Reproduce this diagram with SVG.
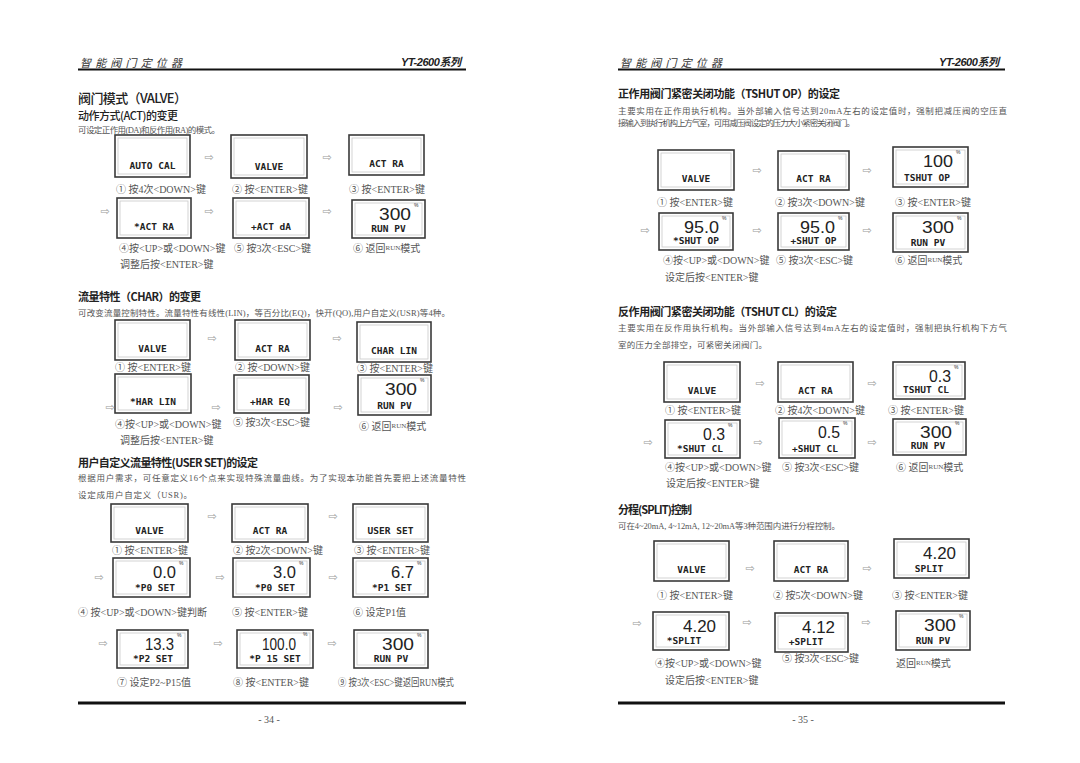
<svg xmlns="http://www.w3.org/2000/svg" width="1080" height="763" viewBox="0 0 1080 763">
<style>
.o{fill:#fff;stroke:#3a3a3a;stroke-width:1.6}
.i{fill:none;stroke:#c8c8c8;stroke-width:0.8}
.s{font-family:"DejaVu Sans Mono",monospace;font-weight:bold;font-size:9.5px;fill:#222;text-anchor:middle;dominant-baseline:central}
.b{font-family:"Liberation Sans",sans-serif;font-size:17px;fill:#222;text-anchor:end;dominant-baseline:central}
.p{font-family:"Liberation Sans",sans-serif;font-size:5px;fill:#333}
.a{font-family:"DejaVu Sans",sans-serif;font-size:11px;fill:#999;text-anchor:middle;dominant-baseline:central}
.l{font-family:"Liberation Serif","Noto Sans CJK SC",serif;font-size:10px;fill:#555;dominant-baseline:central}
.l tspan{font-size:7px}
.t{font-family:"Noto Sans CJK SC",sans-serif;font-weight:bold;fill:#222;dominant-baseline:central;font-size:11px}
.d{font-family:"Liberation Serif","Noto Sans CJK SC",serif;font-size:8.5px;fill:#555;dominant-baseline:central}
.h{font-family:"Noto Sans CJK SC",sans-serif;font-style:italic;font-size:11px;fill:#333;dominant-baseline:central}
.hy{font-family:"Liberation Sans","Noto Sans CJK SC",sans-serif;font-style:italic;font-weight:bold;font-size:11px;fill:#222;dominant-baseline:central;text-anchor:end}
.r{stroke:#111}
.pg{font-family:"Liberation Serif",serif;font-size:10px;fill:#555;text-anchor:middle;dominant-baseline:central}
</style>
<rect width="1080" height="763" fill="#fff"/>

<g id="page-frame">
<text class="h" x="80" y="62" textLength="102">智 能 阀 门 定 位 器</text>
<text class="hy" x="461" y="62" textLength="60">YT-2600系列</text>
<line class="r" x1="78" y1="69.5" x2="466" y2="69.5" stroke-width="2"/>
<line class="r" x1="78" y1="703" x2="466" y2="703" stroke-width="3"/>
<text class="pg" x="269" y="719">- 34 -</text>
<text class="h" x="620" y="62" textLength="102">智 能 阀 门 定 位 器</text>
<text class="hy" x="999" y="62" textLength="60">YT-2600系列</text>
<line class="r" x1="618" y1="69.5" x2="1005" y2="69.5" stroke-width="2"/>
<line class="r" x1="618" y1="703" x2="1005" y2="703" stroke-width="3"/>
<text class="pg" x="803" y="719">- 35 -</text>
</g>

<g id="headings">
<text class="t" x="78" y="97" style="font-size:13px;font-weight:500" textLength="109">阀门模式（VALVE）</text>
<text class="t" x="78" y="115" style="font-weight:500" textLength="100">动作方式(ACT)的变更</text>
<text class="d" x="78" y="130" textLength="142">可设定正作用(DA)和反作用(RA)的模式。</text>
<text class="t" x="78" y="296" textLength="123">流量特性（CHAR）的变更</text>
<text class="d" x="78" y="313" textLength="372">可改变流量控制特性。流量特性有线性(LIN)，等百分比(EQ)，快开(QO),用户自定义(USR)等4种。</text>
<text class="t" x="78" y="462" textLength="180">用户自定义流量特性(USER SET)的设定</text>
<text class="d" x="78" y="478" textLength="388">根据用户需求，可任意定义16个点来实现特殊流量曲线。为了实现本功能首先要把上述流量特性</text>
<text class="d" x="78" y="495" textLength="114">设定成用户自定义（USR)。</text>
<text class="t" x="618" y="93" textLength="222">正作用阀门紧密关闭功能（TSHUT OP）的设定</text>
<text class="d" x="618" y="111" textLength="389">主要实用在正作用执行机构。当外部输入信号达到20mA左右的设定值时，强制把减压阀的空压直</text>
<text class="d" x="618" y="123" textLength="237">接输入到执行机构上方气室，可用减压阀设定的压力大小紧密关闭阀门。</text>
<text class="t" x="618" y="311" textLength="219">反作用阀门紧密关闭功能（TSHUT CL）的设定</text>
<text class="d" x="618" y="328" textLength="389">主要实用在反作用执行机构。当外部输入信号达到4mA左右的设定值时，强制把执行机构下方气</text>
<text class="d" x="618" y="345" textLength="149">室的压力全部排空，可紧密关闭阀门。</text>
<text class="t" x="618" y="509" textLength="74">分程(SPLIT)控制</text>
<text class="d" x="618" y="526" textLength="222">可在4~20mA, 4~12mA, 12~20mA等3种范围内进行分程控制。</text>
</g>

<!-- VALVE / ACT -->
<g id="a1"><rect class="o" x="115" y="135" width="75" height="42"/><rect class="i" x="118" y="138" width="69" height="36"/><text class="s" x="152.5" y="165">AUTO CAL</text></g>
<g id="a2"><rect class="o" x="231" y="135" width="76" height="43"/><rect class="i" x="234" y="138" width="70" height="37"/><text class="s" x="269" y="166">VALVE</text></g>
<g id="a3"><rect class="o" x="349" y="135" width="75" height="40"/><rect class="i" x="352" y="138" width="69" height="34"/><text class="s" x="386.5" y="163">ACT RA</text></g>
<g id="a4"><rect class="o" x="117" y="198" width="74" height="40"/><rect class="i" x="120" y="201" width="68" height="34"/><text class="s" x="154" y="226">*ACT RA</text></g>
<g id="a5"><rect class="o" x="233" y="198" width="76" height="40"/><rect class="i" x="236" y="201" width="70" height="34"/><text class="s" x="271" y="226">+ACT dA</text></g>
<g id="a6"><rect class="o" x="352" y="200" width="73" height="38"/><rect class="i" x="355" y="203" width="67" height="32"/><text class="b" x="411" y="214" textLength="32" lengthAdjust="spacingAndGlyphs">300</text><text class="p" x="414" y="207">%</text><text class="s" x="388.5" y="228">RUN PV</text></g>

<!-- CHAR -->
<g id="c1"><rect class="o" x="115" y="320" width="75" height="40"/><rect class="i" x="118" y="323" width="69" height="34"/><text class="s" x="152.5" y="348">VALVE</text></g>
<g id="c2"><rect class="o" x="235" y="320" width="75" height="40"/><rect class="i" x="238" y="323" width="69" height="34"/><text class="s" x="272.5" y="348">ACT RA</text></g>
<g id="c3"><rect class="o" x="357" y="322" width="74" height="40"/><rect class="i" x="360" y="325" width="68" height="34"/><text class="s" x="394" y="350">CHAR LIN</text></g>
<g id="c4"><rect class="o" x="115" y="374" width="76" height="39"/><rect class="i" x="118" y="377" width="70" height="33"/><text class="s" x="153" y="401">*HAR LIN</text></g>
<g id="c5"><rect class="o" x="234" y="375" width="75" height="38"/><rect class="i" x="237" y="378" width="69" height="32"/><text class="s" x="270" y="401">+HAR EQ</text></g>
<g id="c6"><rect class="o" x="358" y="375" width="73" height="40"/><rect class="i" x="361" y="378" width="67" height="34"/><text class="b" x="417" y="389" textLength="32" lengthAdjust="spacingAndGlyphs">300</text><text class="p" x="420" y="382">%</text><text class="s" x="394.5" y="405">RUN PV</text></g>

<!-- USER SET -->
<g id="u1"><rect class="o" x="111" y="504" width="77" height="38"/><rect class="i" x="114" y="507" width="71" height="32"/><text class="s" x="149.5" y="530">VALVE</text></g>
<g id="u2"><rect class="o" x="232" y="504" width="76" height="38"/><rect class="i" x="235" y="507" width="70" height="32"/><text class="s" x="270" y="530">ACT RA</text></g>
<g id="u3"><rect class="o" x="353" y="504" width="75" height="38"/><rect class="i" x="356" y="507" width="69" height="32"/><text class="s" x="390.5" y="530">USER SET</text></g>
<g id="u4"><rect class="o" x="113" y="558" width="77" height="39"/><rect class="i" x="116" y="561" width="71" height="33"/><text class="b" x="176" y="572" textLength="23" lengthAdjust="spacingAndGlyphs">0.0</text><text class="p" x="179" y="565">%</text><text class="s" x="155" y="587">*P0 SET</text></g>
<g id="u5"><rect class="o" x="233" y="558" width="77" height="39"/><rect class="i" x="236" y="561" width="71" height="33"/><text class="b" x="296" y="572" textLength="23" lengthAdjust="spacingAndGlyphs">3.0</text><text class="p" x="299" y="565">%</text><text class="s" x="275" y="587">*P0 SET</text></g>
<g id="u6"><rect class="o" x="353" y="558" width="75" height="39"/><rect class="i" x="356" y="561" width="69" height="33"/><text class="b" x="414" y="572" textLength="23" lengthAdjust="spacingAndGlyphs">6.7</text><text class="p" x="417" y="565">%</text><text class="s" x="392" y="587">*P1 SET</text></g>
<g id="u7"><rect class="o" x="117" y="630" width="71" height="38"/><rect class="i" x="120" y="633" width="65" height="32"/><text class="b" x="174" y="644" textLength="29" lengthAdjust="spacingAndGlyphs">13.3</text><text class="p" x="177" y="637">%</text><text class="s" x="153" y="658">*P2 SET</text></g>
<g id="u8"><rect class="o" x="237" y="630" width="76" height="38"/><rect class="i" x="240" y="633" width="70" height="32"/><text class="b" x="296" y="644" textLength="34" lengthAdjust="spacingAndGlyphs">100.0</text><text class="p" x="303" y="636">%</text><text class="s" x="275" y="658">*P 15 SET</text></g>
<g id="u9"><rect class="o" x="354" y="630" width="74" height="38"/><rect class="i" x="357" y="633" width="68" height="32"/><text class="b" x="414" y="644" textLength="32" lengthAdjust="spacingAndGlyphs">300</text><text class="p" x="417" y="637">%</text><text class="s" x="391" y="658">RUN PV</text></g>

<!-- TSHUT OP -->
<g id="t1"><rect class="o" x="658" y="150" width="76" height="40"/><rect class="i" x="661" y="153" width="70" height="34"/><text class="s" x="696" y="178">VALVE</text></g>
<g id="t2"><rect class="o" x="778" y="151" width="71" height="39"/><rect class="i" x="781" y="154" width="65" height="33"/><text class="s" x="813.5" y="178">ACT RA</text></g>
<g id="t3"><rect class="o" x="893" y="147" width="75" height="40"/><rect class="i" x="896" y="150" width="69" height="34"/><text class="b" x="953" y="161" textLength="30" lengthAdjust="spacingAndGlyphs">100</text><text class="p" x="956" y="154">%</text><text class="s" x="927" y="177">TSHUT OP</text></g>
<g id="t4"><rect class="o" x="659" y="213" width="74" height="37"/><rect class="i" x="662" y="216" width="68" height="31"/><text class="b" x="719" y="227" textLength="35" lengthAdjust="spacingAndGlyphs">95.0</text><text class="p" x="722" y="220">%</text><text class="s" x="696" y="240">*SHUT OP</text></g>
<g id="t5"><rect class="o" x="778" y="213" width="71" height="37"/><rect class="i" x="781" y="216" width="65" height="31"/><text class="b" x="835" y="227" textLength="35" lengthAdjust="spacingAndGlyphs">95.0</text><text class="p" x="838" y="220">%</text><text class="s" x="813.5" y="240">+SHUT OP</text></g>
<g id="t6"><rect class="o" x="893" y="213" width="75" height="39"/><rect class="i" x="896" y="216" width="69" height="33"/><text class="b" x="954" y="227" textLength="32" lengthAdjust="spacingAndGlyphs">300</text><text class="p" x="957" y="220">%</text><text class="s" x="928" y="242">RUN PV</text></g>

<!-- TSHUT CL -->
<g id="l1"><rect class="o" x="664" y="362" width="76" height="40"/><rect class="i" x="667" y="365" width="70" height="34"/><text class="s" x="702" y="390">VALVE</text></g>
<g id="l2"><rect class="o" x="778" y="362" width="75" height="40"/><rect class="i" x="781" y="365" width="69" height="34"/><text class="s" x="815.5" y="390">ACT RA</text></g>
<g id="l3"><rect class="o" x="893" y="362" width="72" height="37"/><rect class="i" x="896" y="365" width="66" height="31"/><text class="b" x="951" y="376" textLength="22" lengthAdjust="spacingAndGlyphs">0.3</text><text class="p" x="954" y="369">%</text><text class="s" x="926" y="389">TSHUT CL</text></g>
<g id="l4"><rect class="o" x="665" y="420" width="75" height="38"/><rect class="i" x="668" y="423" width="69" height="32"/><text class="b" x="725" y="434" textLength="22" lengthAdjust="spacingAndGlyphs">0.3</text><text class="p" x="728" y="427">%</text><text class="s" x="700" y="448">*SHUT CL</text></g>
<g id="l5"><rect class="o" x="779" y="418" width="76" height="40"/><rect class="i" x="782" y="421" width="70" height="34"/><text class="b" x="840" y="432" textLength="22" lengthAdjust="spacingAndGlyphs">0.5</text><text class="p" x="843" y="425">%</text><text class="s" x="815" y="448">+SHUT CL</text></g>
<g id="l6"><rect class="o" x="893" y="419" width="73" height="36"/><rect class="i" x="896" y="422" width="67" height="30"/><text class="b" x="952" y="432" textLength="32" lengthAdjust="spacingAndGlyphs">300</text><text class="p" x="955" y="425">%</text><text class="s" x="928" y="445">RUN PV</text></g>

<!-- SPLIT -->
<g id="s1"><rect class="o" x="654" y="541" width="75" height="40"/><rect class="i" x="657" y="544" width="69" height="34"/><text class="s" x="691.5" y="569">VALVE</text></g>
<g id="s2"><rect class="o" x="774" y="541" width="74" height="40"/><rect class="i" x="777" y="544" width="68" height="34"/><text class="s" x="811" y="569">ACT RA</text></g>
<g id="s3"><rect class="o" x="894" y="539" width="75" height="39"/><rect class="i" x="897" y="542" width="69" height="33"/><text class="b" x="956" y="553" textLength="33" lengthAdjust="spacingAndGlyphs">4.20</text><text class="s" x="929" y="568">SPLIT</text></g>
<g id="s4"><rect class="o" x="653" y="612" width="76" height="38"/><rect class="i" x="656" y="615" width="70" height="32"/><text class="b" x="716" y="626" textLength="33" lengthAdjust="spacingAndGlyphs">4.20</text><text class="s" x="684" y="640">*SPLIT</text></g>
<g id="s5"><rect class="o" x="775" y="613" width="73" height="39"/><rect class="i" x="778" y="616" width="67" height="33"/><text class="b" x="835" y="627" textLength="33" lengthAdjust="spacingAndGlyphs">4.12</text><text class="s" x="806" y="641">+SPLIT</text></g>
<g id="s6"><rect class="o" x="896" y="611" width="74" height="39"/><rect class="i" x="899" y="614" width="68" height="33"/><text class="b" x="956" y="625" textLength="32" lengthAdjust="spacingAndGlyphs">300</text><text class="p" x="959" y="618">%</text><text class="s" x="933" y="640">RUN PV</text></g>

<g id="connectors">
<text class="a" x="209" y="157">⇨</text><text class="a" x="327" y="157">⇨</text>
<text class="a" x="105" y="211">⇨</text><text class="a" x="209" y="211">⇨</text><text class="a" x="327" y="211">⇨</text>
<text class="a" x="212" y="338">⇨</text><text class="a" x="337" y="338">⇨</text>
<text class="a" x="110" y="407">⇨</text><text class="a" x="216" y="407">⇨</text><text class="a" x="338" y="407">⇨</text>
<text class="a" x="212" y="516">⇨</text><text class="a" x="333" y="516">⇨</text>
<text class="a" x="99" y="577">⇨</text><text class="a" x="220" y="577">⇨</text><text class="a" x="333" y="577">⇨</text>
<text class="a" x="103" y="643">⇨</text><text class="a" x="218" y="643">⇨</text><text class="a" x="332" y="643">⇨</text>
<text class="a" x="757" y="170">⇨</text><text class="a" x="867" y="170">⇨</text>
<text class="a" x="645" y="230">⇨</text><text class="a" x="757" y="230">⇨</text><text class="a" x="867" y="230">⇨</text>
<text class="a" x="760" y="383">⇨</text><text class="a" x="872" y="383">⇨</text>
<text class="a" x="648" y="442">⇨</text><text class="a" x="758" y="442">⇨</text><text class="a" x="872" y="442">⇨</text>
<text class="a" x="750" y="568">⇨</text><text class="a" x="867" y="568">⇨</text>
<text class="a" x="637" y="623">⇨</text><text class="a" x="747" y="622">⇨</text><text class="a" x="866" y="622">⇨</text>
</g>

<g id="labels">
<text class="l" x="116" y="189">① 按4次&lt;DOWN&gt;键</text>
<text class="l" x="232" y="189">② 按&lt;ENTER&gt;键</text>
<text class="l" x="349" y="189">③ 按&lt;ENTER&gt;键</text>
<text class="l" x="119" y="248">④按&lt;UP&gt;或&lt;DOWN&gt;键</text>
<text class="l" x="234" y="248">⑤ 按3次&lt;ESC&gt;键</text>
<text class="l" x="353" y="248">⑥ 返回<tspan>RUN</tspan>模式</text>
<text class="l" x="120" y="264">调整后按&lt;ENTER&gt;键</text>

<text class="l" x="115" y="367">① 按&lt;ENTER&gt;键</text>
<text class="l" x="235" y="367">② 按&lt;DOWN&gt;键</text>
<text class="l" x="357" y="368">③ 按&lt;ENTER&gt;键</text>
<text class="l" x="115" y="424">④按&lt;UP&gt;或&lt;DOWN&gt;键</text>
<text class="l" x="233" y="422">⑤ 按3次&lt;ESC&gt;键</text>
<text class="l" x="359" y="426">⑥ 返回<tspan>RUN</tspan>模式</text>
<text class="l" x="120" y="440">调整后按&lt;ENTER&gt;键</text>

<text class="l" x="112" y="550">① 按&lt;ENTER&gt;键</text>
<text class="l" x="233" y="550">② 按2次&lt;DOWN&gt;键</text>
<text class="l" x="354" y="550">③ 按&lt;ENTER&gt;键</text>
<text class="l" x="78" y="612">④ 按&lt;UP&gt;或&lt;DOWN&gt;键判断</text>
<text class="l" x="232" y="612">⑤ 按&lt;ENTER&gt;键</text>
<text class="l" x="353" y="612">⑥ 设定P1值</text>
<text class="l" x="117" y="682">⑦ 设定P2~P15值</text>
<text class="l" x="233" y="682">⑧ 按&lt;ENTER&gt;键</text>
<text class="l" x="338" y="682" textLength="116" lengthAdjust="spacingAndGlyphs">⑨ 按3次&lt;ESC&gt;键返回RUN模式</text>

<text class="l" x="657" y="202">① 按&lt;ENTER&gt;键</text>
<text class="l" x="775" y="202">② 按3次&lt;DOWN&gt;键</text>
<text class="l" x="895" y="202">③ 按&lt;ENTER&gt;键</text>
<text class="l" x="663" y="260">④按&lt;UP&gt;或&lt;DOWN&gt;键</text>
<text class="l" x="776" y="260">⑤ 按3次&lt;ESC&gt;键</text>
<text class="l" x="895" y="260">⑥ 返回<tspan>RUN</tspan>模式</text>
<text class="l" x="665" y="277">设定后按&lt;ENTER&gt;键</text>

<text class="l" x="665" y="410">① 按&lt;ENTER&gt;键</text>
<text class="l" x="775" y="410">② 按4次&lt;DOWN&gt;键</text>
<text class="l" x="888" y="410">③ 按&lt;ENTER&gt;键</text>
<text class="l" x="665" y="467">④按&lt;UP&gt;或&lt;DOWN&gt;键</text>
<text class="l" x="782" y="467">⑤ 按3次&lt;ESC&gt;键</text>
<text class="l" x="896" y="467">⑥ 返回<tspan>RUN</tspan>模式</text>
<text class="l" x="666" y="483">设定后按&lt;ENTER&gt;键</text>

<text class="l" x="657" y="595">① 按&lt;ENTER&gt;键</text>
<text class="l" x="773" y="595">② 按5次&lt;DOWN&gt;键</text>
<text class="l" x="892" y="595">③ 按&lt;ENTER&gt;键</text>
<text class="l" x="655" y="663">④按&lt;UP&gt;或&lt;DOWN&gt;键</text>
<text class="l" x="782" y="658">⑤ 按3次&lt;ESC&gt;键</text>
<text class="l" x="896" y="663">返回<tspan>RUN</tspan>模式</text>
<text class="l" x="665" y="680">设定后按&lt;ENTER&gt;键</text>
</g>
</svg>
